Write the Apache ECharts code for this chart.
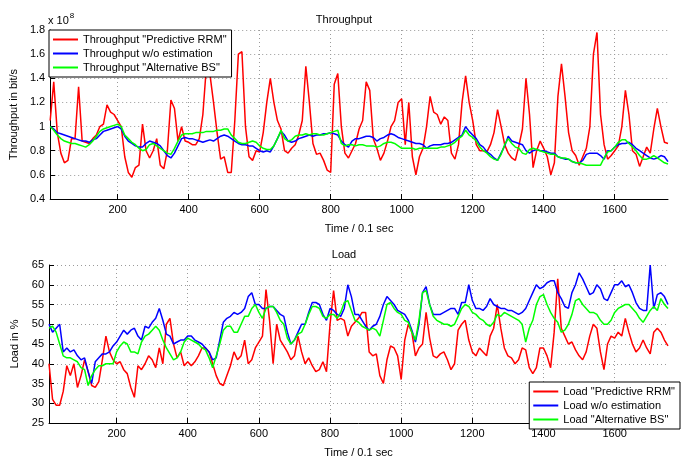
<!DOCTYPE html>
<html>
<head>
<meta charset="utf-8">
<script src="https://cdn.jsdelivr.net/npm/echarts@6.0.0/dist/echarts.min.js"></script>
<style>
  html, body { margin: 0; padding: 0; background: #fff; }
  #chart { width: 688px; height: 459px; }
</style>
</head>
<body>
<div id="chart"></div>
<script>
// one sample every 10 time units (t = 10, 20, ... 1750)
const SAMPLE_STEP = 10;

// throughput, in units of 1e8 bit/s
const thrRrm = [
  1.05, 1.37, 0.95, 0.78, 0.70, 0.72, 0.90, 0.90, 1.33, 0.88,
  0.87, 0.86, 0.90, 0.93, 1.00, 1.02, 1.18, 1.12, 1.10, 1.05,
  1.00, 0.75, 0.62, 0.58, 0.66, 0.68, 1.02, 0.80, 0.74, 0.80,
  0.90, 0.68, 0.65, 0.80, 1.22, 1.15, 0.88, 1.00, 0.88, 0.87,
  0.85, 0.85, 0.90, 1.10, 1.50, 1.43, 1.20, 0.95, 0.73, 0.75,
  0.62, 0.62, 1.05, 1.60, 1.62, 1.00, 0.75, 0.72, 0.80, 0.79,
  0.95, 1.20, 1.40, 1.20, 1.05, 0.98, 0.80, 0.78, 0.82, 0.85,
  0.93, 1.05, 1.50, 1.20, 0.86, 0.77, 0.78, 0.72, 0.64, 0.62,
  1.35, 1.44, 1.00, 0.78, 0.74, 0.80, 0.86, 0.98, 1.05, 1.37,
  1.30, 0.90, 0.82, 0.72, 0.78, 0.88, 1.00, 1.05, 1.20, 1.23,
  0.85, 1.20, 0.75, 0.60, 0.75, 0.82, 1.00, 1.25, 1.12, 1.10,
  1.02, 1.08, 1.05, 0.78, 0.73, 0.85, 1.20, 1.42, 1.20, 1.05,
  0.85, 0.80, 0.80, 0.79, 0.85, 0.95, 1.14, 1.00, 0.85, 0.78,
  0.74, 0.72, 0.84, 0.98, 1.40, 1.10, 0.66, 0.80, 0.88, 0.82,
  0.75, 0.60, 0.70, 1.25, 1.52, 1.25, 0.95, 0.80, 0.76, 0.68,
  0.75, 0.82, 1.00, 1.60, 1.78, 1.10, 0.85, 0.73, 0.76, 0.80,
  0.84, 1.00, 1.30, 1.10, 0.80, 0.77, 0.67, 0.75, 0.83, 0.78,
  0.98, 1.15, 1.00, 0.87, 0.86
];
const thrNoEst = [
  1.00, 0.98, 0.95, 0.94, 0.93, 0.92, 0.91, 0.90, 0.89, 0.88,
  0.88, 0.87, 0.89, 0.90, 0.93, 0.96, 0.97, 0.98, 0.99, 1.00,
  0.98, 0.92, 0.88, 0.86, 0.84, 0.83, 0.83, 0.86, 0.88, 0.87,
  0.86, 0.84, 0.80, 0.76, 0.74, 0.78, 0.84, 0.90, 0.91, 0.90,
  0.90, 0.89, 0.88, 0.87, 0.88, 0.89, 0.88, 0.90, 0.92, 0.93,
  0.92, 0.90, 0.88, 0.86, 0.85, 0.85, 0.84, 0.84, 0.82, 0.80,
  0.79, 0.80, 0.79, 0.84, 0.90, 0.96, 0.93, 0.88, 0.87, 0.88,
  0.90, 0.91, 0.92, 0.93, 0.92, 0.93, 0.93, 0.94, 0.94, 0.95,
  0.94, 0.93, 0.88, 0.85, 0.83, 0.88, 0.90, 0.90, 0.91, 0.92,
  0.92, 0.91, 0.88, 0.90, 0.91, 0.93, 0.94, 0.93, 0.91, 0.90,
  0.89, 0.88, 0.87, 0.86, 0.86, 0.85, 0.82, 0.84, 0.85, 0.85,
  0.85, 0.86, 0.86, 0.87, 0.89, 0.91, 0.93, 1.00, 0.96, 0.93,
  0.90, 0.85, 0.83, 0.79, 0.77, 0.74, 0.72, 0.78, 0.84, 0.92,
  0.88, 0.87, 0.86, 0.85, 0.80, 0.78, 0.80, 0.81, 0.80, 0.80,
  0.79, 0.78, 0.78, 0.75, 0.74, 0.73, 0.73, 0.71, 0.70, 0.70,
  0.72, 0.77, 0.78, 0.78, 0.78, 0.76, 0.73, 0.80, 0.80, 0.83,
  0.85, 0.86, 0.86, 0.87, 0.85, 0.82, 0.80, 0.78, 0.76, 0.74,
  0.73, 0.74, 0.76, 0.75, 0.71
];
const thrAltBs = [
  1.00, 0.97, 0.93, 0.90, 0.88, 0.87, 0.86, 0.86, 0.85, 0.84,
  0.83, 0.85, 0.88, 0.92, 0.96, 0.98, 0.99, 1.00, 1.01, 1.02,
  1.00, 0.93, 0.90, 0.87, 0.85, 0.82, 0.80, 0.81, 0.85, 0.86,
  0.84, 0.82, 0.80, 0.78, 0.77, 0.82, 0.88, 0.93, 0.94, 0.94,
  0.94, 0.95, 0.95, 0.95, 0.96, 0.96, 0.96, 0.97, 0.97, 0.98,
  0.98, 0.93, 0.90, 0.87, 0.86, 0.86, 0.87, 0.88, 0.87, 0.84,
  0.82, 0.81, 0.81, 0.84, 0.90, 0.97, 0.90, 0.88, 0.89, 0.92,
  0.93, 0.93, 0.94, 0.93, 0.94, 0.94, 0.93, 0.93, 0.94, 0.95,
  0.96, 0.97, 0.86, 0.84, 0.85, 0.85, 0.84, 0.85, 0.85, 0.84,
  0.84, 0.84, 0.83, 0.84, 0.86, 0.87, 0.87, 0.86, 0.84, 0.82,
  0.82, 0.82, 0.82, 0.81, 0.82, 0.82, 0.82, 0.82, 0.82, 0.82,
  0.83, 0.83, 0.84, 0.85, 0.87, 0.90, 0.92, 0.97, 0.93, 0.91,
  0.88, 0.83, 0.80, 0.78, 0.75, 0.73, 0.72, 0.77, 0.85, 0.90,
  0.86, 0.83, 0.82, 0.78, 0.77, 0.81, 0.82, 0.81, 0.80, 0.79,
  0.78, 0.77, 0.77, 0.75, 0.74, 0.74, 0.73, 0.71, 0.70, 0.70,
  0.69, 0.68, 0.68, 0.68, 0.68, 0.68, 0.74, 0.79, 0.80, 0.83,
  0.87, 0.89, 0.89, 0.86, 0.83, 0.80, 0.76, 0.73, 0.73, 0.74,
  0.76, 0.74, 0.72, 0.70, 0.69
];

// load, in %
const loadRrm = [
  40, 31, 29.5, 29.5, 33, 39.5, 37, 40, 34, 37,
  41, 38, 34.5, 34, 35.5, 41, 47, 43, 41, 40,
  40.5, 38.5, 37.5, 34, 31.5, 39.5, 38.5, 40, 42, 41,
  39, 44, 40, 50, 51.5, 45, 41.5, 43, 39.5, 40.5,
  39.5, 40.5, 42, 44, 44, 43, 40, 37, 35, 34.5,
  37, 39.5, 43, 41, 42, 46, 40, 41, 44, 45.5,
  47, 58.8, 51, 40, 50, 46, 44.5, 43, 41, 42,
  47, 43, 40, 41.5, 39.5, 38, 38.5, 40.5, 38, 50,
  58.5, 51, 51.5, 51, 47, 49.5, 50.5, 51.5, 53, 53,
  43, 42, 42.5, 37, 35, 41, 44.5, 44, 42, 36,
  46, 50, 48, 42, 44, 45, 53, 46.5, 42, 41.5,
  42.5, 43, 41, 38.5, 40, 48.5, 50, 51, 46, 43,
  42, 44, 43, 42, 47, 49, 55, 49, 44, 42,
  41.5, 40, 41, 44, 43.5, 39, 37.5, 39, 44, 44,
  42, 39, 48, 61.5, 49, 47, 45, 45.5, 43.5, 42,
  41, 43, 47, 50, 49, 43, 38.5, 45, 47, 46.5,
  48, 47, 51.5, 48, 45, 43, 44, 46, 44, 42.5,
  48, 49, 48, 46, 44.5
];
const loadNoEst = [
  50, 48, 49, 50, 43, 44, 43, 43.5, 42, 41,
  41.5, 38, 35, 40.5, 41.5, 42.5, 42.5, 43, 44.5, 45.5,
  47, 48.5, 47.5, 48.5, 49, 47, 46, 49.5, 49, 50.5,
  51.5, 54, 51, 47.5, 47, 45, 45.5, 46, 46, 47,
  47, 46, 45.5, 45, 44, 43, 41, 41.5, 46, 50.5,
  51.5, 52, 53, 52.5, 53, 54, 57, 58, 55, 55,
  54, 54, 54.5, 54.5, 53.5, 52.5, 52, 48, 45, 46,
  48, 50, 50, 53, 55.5, 55.5, 55, 52.5, 51, 54,
  53.5, 52.5, 52, 54, 60, 57, 52.5, 52.5, 51, 49.5,
  48.5, 49.5, 50, 52, 55, 57, 56, 55, 53.5, 53,
  52.5, 51, 48.5, 45.5, 50, 58, 59.5, 55, 52.5, 52.5,
  52.5, 53, 53.5, 54, 54, 52.5, 55.5, 55.5, 60, 56,
  54, 54, 53.5, 54.5, 56.5, 55, 54.5, 54, 54, 53.5,
  53.5, 53, 52.5, 53, 54, 56, 58, 60, 59, 59.5,
  60.5, 61, 61, 58, 56.5, 54.5, 54, 58, 60, 63,
  61.5, 59.5, 57.5, 58, 60, 59, 56.5, 56, 58, 60,
  60, 61, 59.5, 60, 58, 55.5, 54, 53.5, 53.5, 65,
  54, 57.5, 58, 57, 55
];
const loadAltBs = [
  49, 49.5, 48, 45, 42, 41.5, 41.5, 41, 40.5, 39,
  38.5, 34.5, 37, 38.5, 39.5, 39.5, 40, 40, 40, 43,
  44.5, 45.5, 45, 43, 43, 42.5, 45.5, 47, 47.5, 48.5,
  49.5, 48.5, 46, 44, 42.5, 41, 41.5, 43, 45.5, 46.5,
  46, 45.5, 45, 44, 43.5, 41.5, 39, 42, 45, 48.5,
  49.5, 49.5, 48, 48, 50, 52, 52, 54, 55, 53,
  51.5, 54, 54.5, 54.5, 53, 51, 50, 46.5, 45, 46,
  47.5, 48, 50, 52.5, 54.5, 54.5, 54, 52, 51.5, 52.5,
  52.5, 51.5, 53, 55.5, 56, 53.5, 51, 50.5, 49.5, 49,
  48.5, 49, 48.5, 47, 51, 55, 55.5, 54, 53, 52.5,
  51, 50.5, 48, 46, 51, 58, 58.5, 55, 52, 51,
  50.5, 50, 50, 49.5, 50, 52, 54, 55, 54.5, 53,
  52.5, 51.5, 51, 50, 49.5, 50.5, 52.5, 52, 53, 52.5,
  52, 51.5, 51, 50, 45.5, 49, 51, 55, 57, 57.5,
  55, 53, 51.5, 50.5, 48, 48.5, 50, 52.5, 56, 56.5,
  55, 54, 53, 53, 52.5, 51, 50, 50, 51, 53,
  54, 54.5, 55, 55, 54, 53, 51.5, 50.5, 52, 53.5,
  54.5, 53.5, 56.5, 55, 54
];

const timeTicks = [200, 400, 600, 800, 1000, 1200, 1400, 1600];

const seriesNames = {
  thrRrm: 'Throughput "Predictive RRM"',
  thrNoEst: 'Throughput w/o estimation',
  thrAltBs: 'Throughput "Alternative BS"',
  loadRrm: 'Load "Predictive RRM"',
  loadNoEst: 'Load w/o estimation',
  loadAltBs: 'Load "Alternative BS"',
};

const lineColors = ['#ff0000', '#0000ff', '#00ff00'];
const fontFamily = '"Liberation Sans", Arial, Helvetica, sans-serif';

const gridLine = {
  show: true,
  lineStyle: { color: '#9a9a9a', width: 1, type: [1, 3] },
};

function toPairs(values) {
  return values.map((v, i) => [(i + 1) * SAMPLE_STEP, v]);
}

function timeAxis(gridIndex) {
  return {
    gridIndex: gridIndex,
    type: 'value',
    min: 10,
    max: 1750,
    name: 'Time / 0.1 sec',
    nameLocation: 'middle',
    nameGap: 24,
    nameTextStyle: { color: '#000', fontSize: 11, fontFamily: fontFamily },
    axisLine: { show: true, onZero: false, lineStyle: { color: '#000', width: 1 } },
    axisTick: { show: true, inside: true, length: 5, customValues: timeTicks, lineStyle: { color: '#000' } },
    axisLabel: {
      customValues: timeTicks,
      formatter: v => String(v),
      color: '#000',
      fontSize: 11,
      margin: 5,
      fontFamily: fontFamily,
    },
    splitLine: gridLine,
  };
}

function valueAxis(gridIndex, min, max, interval, name) {
  return {
    gridIndex: gridIndex,
    type: 'value',
    min: min,
    max: max,
    interval: interval,
    name: name,
    nameLocation: 'middle',
    nameGap: 29,
    nameTextStyle: { color: '#000', fontSize: 11, fontFamily: fontFamily },
    axisLine: { show: true, onZero: false, lineStyle: { color: '#000', width: 1 } },
    axisTick: { show: true, inside: true, length: 5, lineStyle: { color: '#000' } },
    axisLabel: { color: '#000', fontSize: 11, margin: 5, fontFamily: fontFamily },
    splitLine: gridLine,
  };
}

function lineSeries(name, values, axisIndex, colorIdx) {
  return {
    name: name,
    type: 'line',
    xAxisIndex: axisIndex,
    yAxisIndex: axisIndex,
    data: toPairs(values),
    symbol: 'none',
    lineStyle: { color: lineColors[colorIdx], width: 1.5 },
    itemStyle: { color: lineColors[colorIdx] },
  };
}

function legendBox(names, pos) {
  return Object.assign({
    orient: 'vertical',
    data: names,
    icon: 'rect',
    itemWidth: 25,
    itemHeight: 2,
    itemGap: 1,
    padding: [3, 5, 3, 4],
    borderColor: '#000',
    borderWidth: 1,
    backgroundColor: '#fff',
    borderRadius: 0,
    textStyle: { color: '#000', fontSize: 11, fontFamily: fontFamily, lineHeight: 13 },
  }, pos);
}

function buildChart() {
  const chart = echarts.init(document.getElementById('chart'), null, { renderer: 'canvas' });

  chart.setOption({
    animation: false,
    backgroundColor: '#fff',
    textStyle: { fontFamily: fontFamily },
    title: [
      { text: 'Throughput', left: 'center', top: 9, textStyle: { fontSize: 11, fontWeight: 'normal', color: '#000' } },
      { text: 'Load', left: 'center', top: 244, textStyle: { fontSize: 11, fontWeight: 'normal', color: '#000' } },
    ],
    grid: [
      { left: 49, right: 20, top: 30, height: 169 },
      { left: 49, right: 20, top: 265, height: 168 },
    ],
    xAxis: [timeAxis(0), timeAxis(1)],
    yAxis: [
      valueAxis(0, 0.4, 1.8, 0.2, 'Throughput in bit/s'),
      valueAxis(1, 25, 65, 5, 'Load in %'),
    ],
    legend: [
      legendBox([seriesNames.thrRrm, seriesNames.thrNoEst, seriesNames.thrAltBs], { left: 49, top: 30 }),
      legendBox([seriesNames.loadRrm, seriesNames.loadNoEst, seriesNames.loadAltBs], { right: 8, top: 382 }),
    ],
    graphic: [
      {
        type: 'text',
        left: 48,
        top: 12,
        style: {
          text: '{b|x 10}{e|8}',
          rich: {
            b: { fontSize: 11, fontFamily: fontFamily, fill: '#000', padding: [6, 0, 0, 0] },
            e: { fontSize: 8, fontFamily: fontFamily, fill: '#000', padding: [0, 0, 4, 1] },
          },
        },
      },
    ],
    series: [
      lineSeries(seriesNames.thrRrm, thrRrm, 0, 0),
      lineSeries(seriesNames.thrNoEst, thrNoEst, 0, 1),
      lineSeries(seriesNames.thrAltBs, thrAltBs, 0, 2),
      lineSeries(seriesNames.loadRrm, loadRrm, 1, 0),
      lineSeries(seriesNames.loadNoEst, loadNoEst, 1, 1),
      lineSeries(seriesNames.loadAltBs, loadAltBs, 1, 2),
    ],
  });

  return chart;
}

buildChart();
</script>
</body>
</html>
